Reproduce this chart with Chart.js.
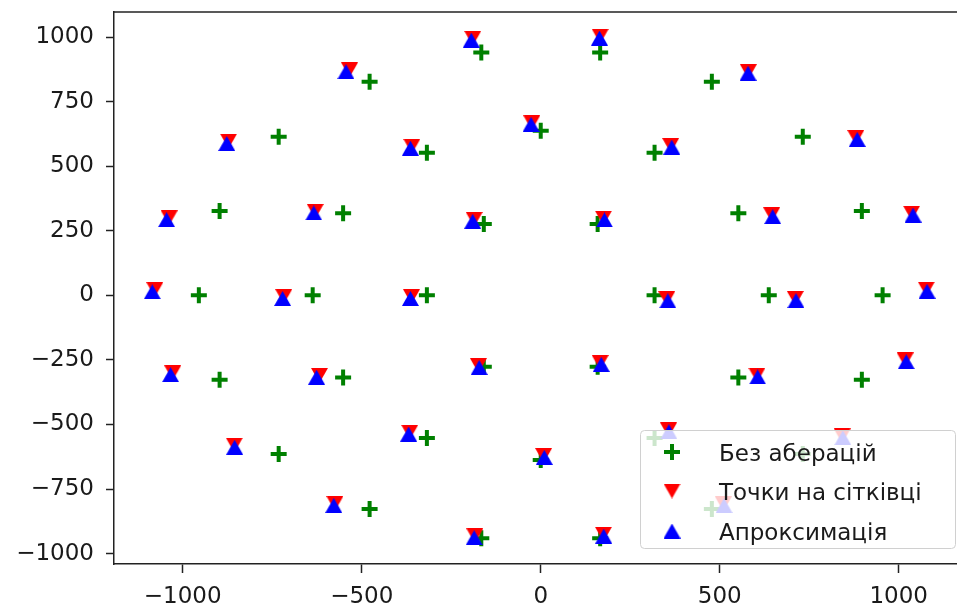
<!DOCTYPE html>
<html>
<head>
<meta charset="utf-8">
<script src="https://cdn.jsdelivr.net/npm/chart.js"></script>
<style>
  body { margin: 0; background: #fff; overflow: hidden; }
  #wrap { width: 968px; height: 606px; }
</style>
</head>
<body>
<div id="wrap"><canvas id="scatterChart"></canvas></div>
<script>
// ideal grid (no aberrations)
const idealX = [318, 159, -159, -318, -159, 159,
  637, 552, 318, 0, -318, -552, -637, -552, -318, 0, 318, 552,
  955, 897, 732, 478, 166, -166, -478, -732, -897, -955, -897, -732, -478, -166, 166, 478, 732, 897];
const idealY = [0, 276, 276, 0, -276, -276,
  0, 318, 552, 637, 552, 318, 0, -318, -552, -637, -552, -318,
  0, 327, 614, 827, 940, 940, 827, 614, 327, 0, -327, -614, -827, -940, -940, -827, -614, -327];

// points on the retina
const retinaX = [352, 175, -186, -361, -174, 166,
  711, 645, 363, -25, -360, -630, -718, -618, -366, 8, 357, 604,
  1077, 1036, 880, 580, 166, -190, -534, -872, -1038, -1078, -1028, -856, -575, -184, 175, 510, 842, 1018];
const retinaY = [-13, 299, 294, -5, -272, -260,
  -12, 312, 580, 668, 577, 325, -5, -310, -530, -620, -521, -309,
  24, 318, 611, 866, 1003, 995, 873, 597, 300, 22, -300, -580, -806, -931, -925, -807, -544, -250];

// approximation
const approxX = [355, 178, -190, -364, -172, 169,
  713, 648, 366, -27, -364, -634, -721, -626, -369, 10, 358, 606,
  1079, 1040, 884, 579, 164, -194, -544, -877, -1045, -1085, -1034, -855, -578, -186, 176, 512, 844, 1021];
const approxY = [-21, 292, 287, -12, -279, -267,
  -20, 305, 574, 662, 570, 319, -12, -317, -537, -627, -528, -316,
  16, 311, 604, 860, 996, 988, 866, 588, 293, 14, -307, -588, -813, -938, -932, -814, -551, -257];

const seriesLabels = ['Без аберацій', 'Точки на сітківці', 'Апроксимація'];
const xTicks = [-1000, -500, 0, 500, 1000];
const yTicks = [-1000, -750, -500, -250, 0, 250, 500, 750, 1000];

function toPoints(xs, ys) {
  return xs.map((x, i) => ({x: x, y: ys[i]}));
}

function triangleImage(color, down) {
  const w = 17, h = 15;
  const c = document.createElement('canvas');
  c.width = w; c.height = h;
  const g = c.getContext('2d');
  g.fillStyle = color;
  g.beginPath();
  if (down) {
    g.moveTo(0, 0); g.lineTo(w, 0); g.lineTo(w / 2, h);
  } else {
    g.moveTo(w / 2, 0); g.lineTo(w, h); g.lineTo(0, h);
  }
  g.closePath();
  g.fill();
  return c;
}

const triDown = triangleImage('#ff0000', true);
const triUp = triangleImage('#0000ff', false);

function fmt(v) {
  return v < 0 ? '\u2212' + Math.abs(v) : String(v);
}

const FONT = {family: 'DejaVu Sans', size: 23};

// top spine + legend box drawn like matplotlib
const frameAndLegend = {
  id: 'frameAndLegend',
  afterDraw(chart) {
    const ctx = chart.ctx;
    const a = chart.chartArea;
    ctx.save();
    ctx.strokeStyle = '#222';
    ctx.lineWidth = 1.5;
    ctx.beginPath();
    ctx.moveTo(a.left, a.top);
    ctx.lineTo(a.right + 2, a.top);
    ctx.stroke();

    // legend
    const bx = 640, by = 430, bw = 315, bh = 118;
    ctx.fillStyle = 'rgba(255,255,255,0.8)';
    ctx.strokeStyle = '#d0d0d0';
    ctx.lineWidth = 1;
    ctx.beginPath();
    ctx.roundRect(bx + 0.5, by + 0.5, bw, bh, 4);
    ctx.fill();
    ctx.stroke();

    const rows = [452, 491, 531];
    const mx = 672;
    // green cross
    ctx.strokeStyle = '#008000';
    ctx.lineWidth = 4;
    ctx.beginPath();
    ctx.moveTo(mx - 8, rows[0]); ctx.lineTo(mx + 8, rows[0]);
    ctx.moveTo(mx, rows[0] - 8); ctx.lineTo(mx, rows[0] + 8);
    ctx.stroke();
    ctx.drawImage(triDown, mx - triDown.width / 2, rows[1] - triDown.height / 2);
    ctx.drawImage(triUp, mx - triUp.width / 2, rows[2] - triUp.height / 2);

    ctx.fillStyle = '#1a1a1a';
    ctx.font = '23px "DejaVu Sans"';
    ctx.textBaseline = 'middle';
    ctx.textAlign = 'left';
    seriesLabels.forEach((t, i) => ctx.fillText(t, 719, rows[i] + 3));
    ctx.restore();
  }
};

new Chart('scatterChart', {
  type: 'scatter',
  data: {
    datasets: [{
      label: seriesLabels[0],
      data: toPoints(idealX, idealY),
      pointStyle: 'cross',
      pointRadius: 8,
      pointBorderWidth: 4,
      borderColor: '#008000',
      backgroundColor: '#008000',
      order: 3
    }, {
      label: seriesLabels[1],
      data: toPoints(retinaX, retinaY),
      pointStyle: triDown,
      order: 2
    }, {
      label: seriesLabels[2],
      data: toPoints(approxX, approxY),
      pointStyle: triUp,
      order: 1
    }]
  },
  options: {
    responsive: true,
    maintainAspectRatio: false,
    animation: false,
    events: [],
    layout: {padding: {top: 11, left: 0, right: 0, bottom: 0}},
    plugins: {
      legend: {display: false},
      tooltip: {enabled: false}
    },
    scales: {
      x: {
        type: 'linear',
        min: -1192,
        max: 1160,
        afterBuildTicks: (s) => { s.ticks = xTicks.map(v => ({value: v})); },
        afterFit: (s) => { s.height = 42; s.paddingLeft = 0; s.paddingRight = 0; },
        ticks: {
          font: FONT,
          color: '#1a1a1a',
          padding: 10,
          maxRotation: 0,
          autoSkip: false,
          callback: fmt
        },
        grid: {drawOnChartArea: false, drawTicks: true, tickLength: 9, tickColor: '#222', tickWidth: 1.5},
        border: {display: true, color: '#222', width: 1.5}
      },
      y: {
        type: 'linear',
        min: -1040,
        max: 1097,
        afterBuildTicks: (s) => { s.ticks = yTicks.map(v => ({value: v})); },
        afterFit: (s) => { s.width = 114; s.paddingTop = 0; s.paddingBottom = 0; },
        ticks: {
          font: FONT,
          color: '#1a1a1a',
          padding: 12,
          autoSkip: false,
          callback: fmt
        },
        grid: {drawOnChartArea: false, drawTicks: true, tickLength: 8, tickColor: '#222', tickWidth: 1.5},
        border: {display: true, color: '#222', width: 1.5}
      }
    }
  },
  plugins: [frameAndLegend]
});
</script>
</body>
</html>
